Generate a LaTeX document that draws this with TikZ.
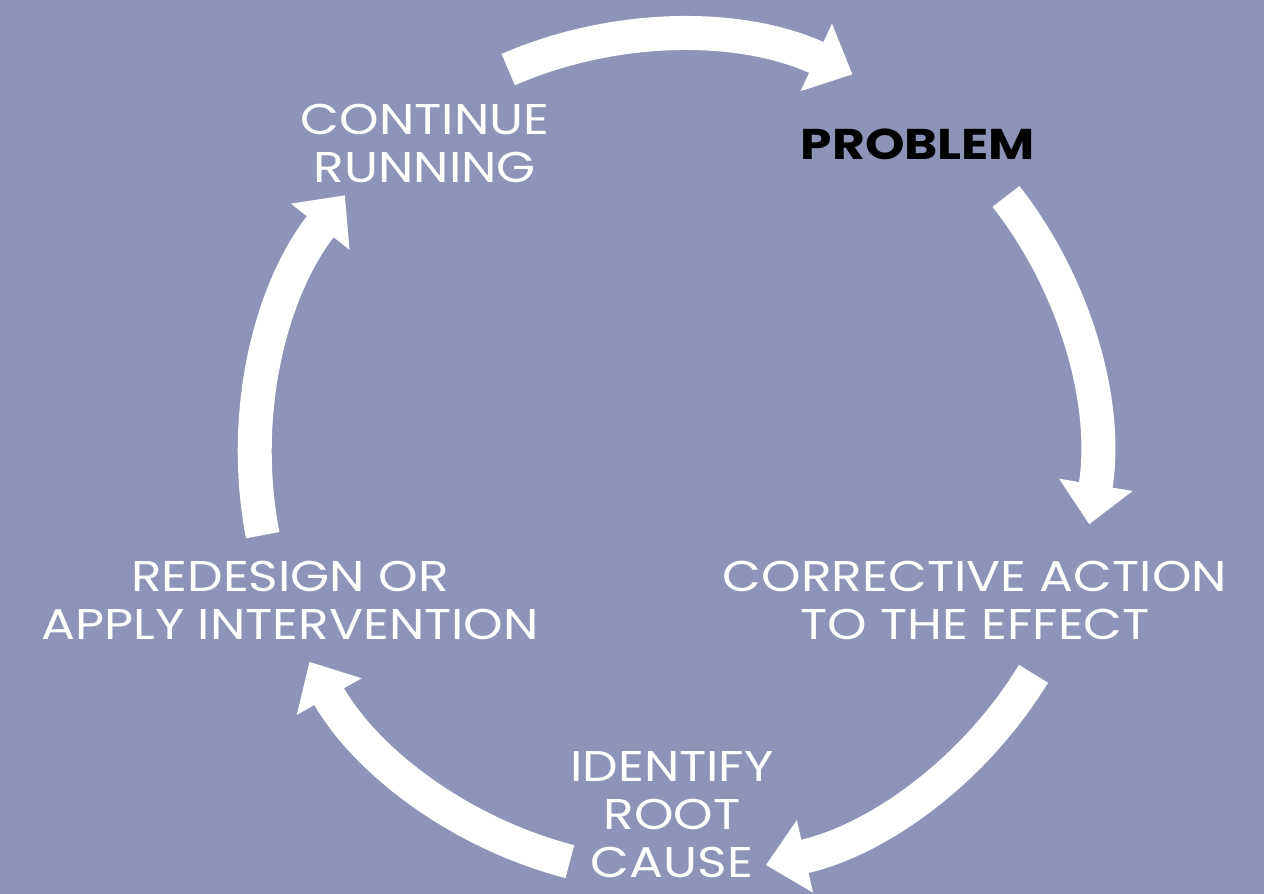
\documentclass[tikz,border=0pt]{standalone}
\usepackage{fontspec}
\setmainfont{Poppins}
\usetikzlibrary{arrows.meta,calc}
\definecolor{bgc}{RGB}{142,148,184}
\begin{document}
\begin{tikzpicture}[x=1pt,y=1pt,
  cyc/.style={draw=white,line width=34pt,
    -{Triangle[width=72pt,length=40pt]}},
  lbl/.style={text=white,align=center,font=\fontsize{43}{48}\selectfont,inner sep=0pt,xscale=1.17,transform shape}]
\fill[bgc] (0,0) rectangle (1264,894);
\useasboundingbox (0,0) rectangle (1264,894);
\coordinate (C) at (675,439);
\node[lbl] (cont) at (425,751) {CONTINUE\\RUNNING};
\node[lbl,text=black,font=\fontsize{43}{48}\selectfont\bfseries] (prob) at (918,750) {PROBLEM};
\node[lbl] (corr) at (975,294) {CORRECTIVE ACTION\\TO THE EFFECT};
\node[lbl] (iden) at (672,79) {IDENTIFY\\ROOT\\CAUSE};
\node[lbl] (rede) at (290,294) {REDESIGN OR\\APPLY INTERVENTION};
\coordinate (a1) at ($(C)+(113.4:420)$);
\coordinate (a2) at ($(C)+(38:420)$);
\coordinate (a3) at ($(C)+(-31.4:420)$);
\coordinate (a4) at ($(C)+(-104.5:420)$);
\coordinate (a5) at ($(C)+(191:420)$);
\draw[cyc] (a1) arc[start angle=113.4,end angle=65,radius=420];
\draw[cyc] (a2) arc[start angle=38,end angle=-9.5,radius=420];
\draw[cyc] (a3) arc[start angle=-31.4,end angle=-77.5,radius=420];
\draw[cyc] (a4) arc[start angle=-104.5,end angle=-150.5,radius=420];
\draw[cyc] (a5) arc[start angle=191,end angle=141.8,radius=420];
\end{tikzpicture}
\end{document}
